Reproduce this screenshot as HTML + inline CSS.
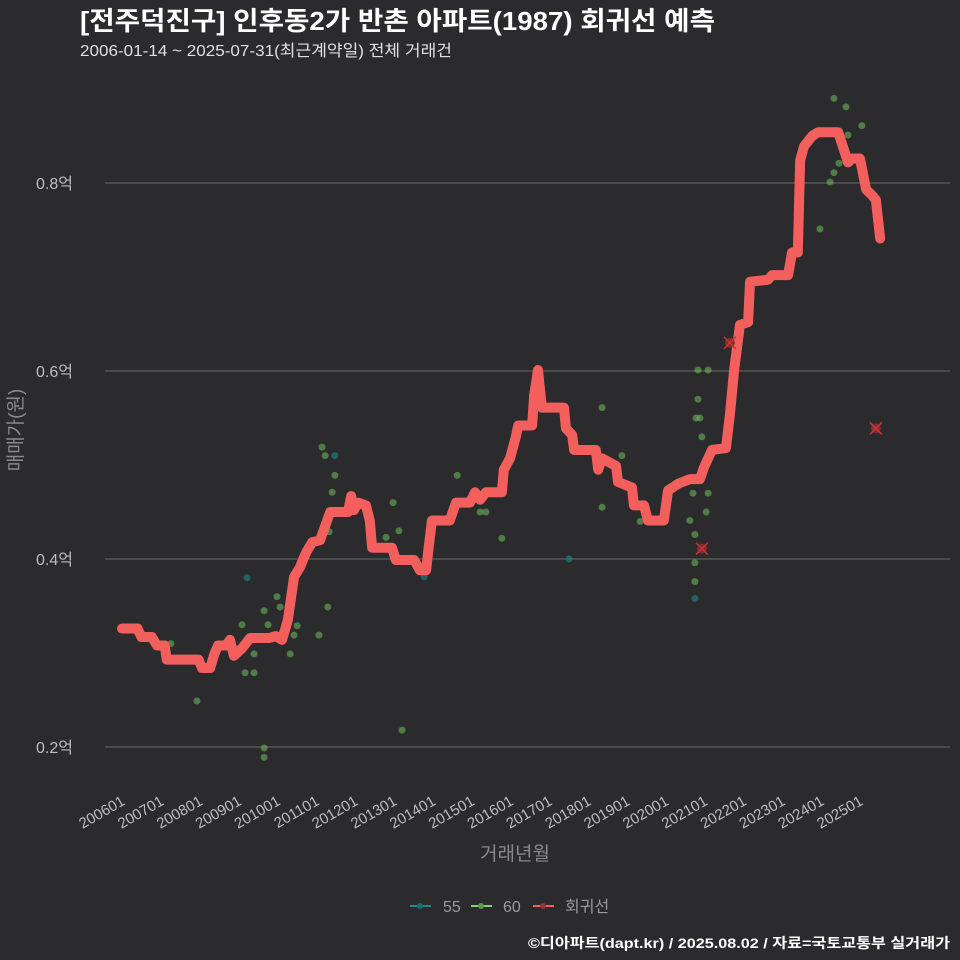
<!DOCTYPE html>
<html><head><meta charset="utf-8"><style>
html,body{margin:0;padding:0;overflow:hidden;background:#2b2a2c;}
svg{display:block;}
svg text{font-family:"Liberation Sans","Noto Sans CJK KR",sans-serif;}
</style></head><body>
<svg id="chart" width="960" height="960" xmlns="http://www.w3.org/2000/svg">
<rect width="960" height="960" fill="#2b2a2c"/>
<text x="80" y="30" fill="#ffffff" font-size="26" font-weight="bold" textLength="635" lengthAdjust="spacingAndGlyphs">[전주덕진구] 인후동2가 반촌 아파트(1987) 회귀선 예측</text>
<text x="80" y="56" fill="#e0e0e0" font-size="16" textLength="372" lengthAdjust="spacingAndGlyphs">2006-01-14 ~ 2025-07-31(최근계약일) 전체 거래건</text>
<g id="grid"></g><g id="pts"></g><g id="line"></g><g id="xticks"></g>
<text x="515" y="860" fill="#8a8a8a" font-size="19" text-anchor="middle">거래년월</text>
<text transform="translate(22,430) rotate(-90)" fill="#8a8a8a" font-size="19" text-anchor="middle">매매가(원)</text>
<g>
<g><line x1="410" y1="906" x2="431" y2="906" stroke="#1f8a8a" stroke-width="2"/><circle cx="420" cy="906" r="3" fill="#1f6a6a"/><text x="443" y="912" fill="#9a9a9a" font-size="16">55</text></g>
<g><line x1="471" y1="906" x2="492" y2="906" stroke="#7fd66f" stroke-width="2"/><circle cx="481" cy="906" r="3" fill="#5a9a50"/><text x="503" y="912" fill="#9a9a9a" font-size="16">60</text></g>
<g><line x1="533" y1="906" x2="554" y2="906" stroke="#f25f5c" stroke-width="2"/><circle cx="543" cy="906" r="3" fill="#8a3a3a"/><text x="565" y="912" fill="#9a9a9a" font-size="16">회귀선</text></g>
</g>
<text x="950" y="948" fill="#ffffff" font-size="14" font-weight="bold" text-anchor="end" textLength="422" lengthAdjust="spacingAndGlyphs">©디아파트(dapt.kr) / 2025.08.02 / 자료=국토교통부 실거래가</text>
</svg>
<script>
const yTicks=[0.2,0.4,0.6,0.8];
const yTickLabels=["0.2억","0.4억","0.6억","0.8억"];
const xTickYears=[2006,2007,2008,2009,2010,2011,2012,2013,2014,2015,2016,2017,2018,2019,2020,2021,2022,2023,2024,2025];
const xTickLabels=["200601","200701","200801","200901","201001","201101","201201","201301","201401","201501","201601","201701","201801","201901","202001","202101","202201","202301","202401","202501"];
const lineX=[2006.0,2006.4,2006.5,2006.77,2006.9,2007.1,2007.15,2007.97,2008.06,2008.27,2008.37,2008.47,2008.68,2008.78,2008.88,2009.09,2009.3,2009.8,2009.96,2010.12,2010.27,2010.43,2010.58,2010.74,2010.9,2011.1,2011.36,2011.82,2011.9,2011.97,2012.08,2012.28,2012.38,2012.44,2012.95,2013.05,2013.52,2013.67,2013.83,2013.88,2013.98,2014.44,2014.6,2014.96,2015.09,2015.22,2015.37,2015.78,2015.83,2015.99,2016.14,2016.2,2016.56,2016.61,2016.71,2016.81,2017.38,2017.43,2017.59,2017.64,2018.2,2018.26,2018.36,2018.72,2018.77,2019.13,2019.18,2019.44,2019.54,2019.95,2020.06,2020.32,2020.62,2020.88,2020.98,2021.19,2021.55,2021.65,2021.76,2021.91,2022.12,2022.17,2022.63,2022.74,2023.15,2023.25,2023.4,2023.46,2023.56,2023.77,2023.92,2024.44,2024.59,2024.69,2024.8,2025.0,2025.16,2025.31,2025.41,2025.52];
const lineY=[0.326,0.326,0.317,0.317,0.308,0.308,0.293,0.293,0.284,0.284,0.298,0.308,0.308,0.314,0.297,0.305,0.316,0.316,0.318,0.314,0.335,0.381,0.391,0.407,0.418,0.420,0.45,0.45,0.467,0.452,0.46,0.457,0.441,0.412,0.412,0.399,0.399,0.388,0.388,0.407,0.441,0.441,0.46,0.46,0.471,0.463,0.471,0.471,0.495,0.507,0.53,0.542,0.542,0.574,0.601,0.561,0.561,0.539,0.532,0.516,0.516,0.495,0.507,0.499,0.482,0.476,0.457,0.457,0.441,0.441,0.473,0.48,0.485,0.485,0.497,0.516,0.518,0.553,0.601,0.649,0.652,0.695,0.697,0.702,0.702,0.726,0.726,0.824,0.839,0.85,0.854,0.854,0.835,0.822,0.826,0.826,0.793,0.787,0.782,0.741];
const s55X=[2009.22,2013.78,2011.48,2017.51,2020.75];
const s55Y=[0.380,0.381,0.510,0.400,0.358];
const s60X=[2007.26,2007.93,2009.09,2009.66,2009.99,2010.07,2009.76,2009.4,2009.17,2009.4,2009.66,2009.66,2010.33,2010.51,2010.43,2011.07,2011.3,2011.15,2011.23,2011.41,2011.33,2011.48,2013.21,2012.8,2013.13,2012.98,2014.63,2015.22,2015.37,2015.78,2018.36,2018.36,2018.87,2019.34,2020.62,2020.78,2020.83,2020.83,2020.88,2020.93,2021.09,2021.04,2021.09,2020.7,2020.75,2020.75,2020.75,2023.97,2024.23,2024.33,2024.46,2024.33,2024.64,2024.69,2025.05];
const s60Y=[0.310,0.249,0.330,0.345,0.360,0.349,0.330,0.299,0.279,0.279,0.199,0.189,0.299,0.329,0.319,0.319,0.349,0.519,0.510,0.471,0.429,0.489,0.218,0.423,0.430,0.460,0.489,0.450,0.450,0.422,0.561,0.455,0.510,0.440,0.441,0.550,0.601,0.570,0.550,0.530,0.601,0.450,0.470,0.470,0.426,0.396,0.376,0.751,0.801,0.811,0.821,0.890,0.881,0.851,0.861];
const outX=[2021.65,2020.93,2025.41];
const outY=[0.630,0.411,0.539];

const NS="http://www.w3.org/2000/svg";
function sx(t){return 122+(t-2006)*38.84;}
function sy(v){return 747-(v-0.2)*940;}
function mk(tag,attrs,parent){const e=document.createElementNS(NS,tag);for(const k in attrs)e.setAttribute(k,attrs[k]);document.getElementById(parent).appendChild(e);return e;}

yTicks.forEach((v,i)=>{
  const l=mk('line',{x1:105,x2:950,y1:sy(v),y2:sy(v),stroke:'#6a6a6a','stroke-width':1},'grid');
  
  
  const t=mk('text',{x:73,y:sy(v)+6,fill:'#bdbdbd','font-size':16,'text-anchor':'end'},'grid');
  t.textContent=yTickLabels[i];
  
  
});
xTickYears.forEach((yr,i)=>{
  const x=sx(yr);
  const t=mk('text',{transform:`translate(${x+4},${804}) rotate(-30)`,fill:'#bdbdbd','font-size':15,'text-anchor':'end'},'xticks');
  t.textContent=xTickLabels[i];
  
  
});
s60X.forEach((x,i)=>{
  const c=mk('circle',{cx:sx(x),cy:sy(s60Y[i]),r:3.5,fill:'#6fbf5f','fill-opacity':0.55},'pts');
  
  
});
s55X.forEach((x,i)=>{
  const c=mk('circle',{cx:sx(x),cy:sy(s55Y[i]),r:3.5,fill:'#1f7a7a','fill-opacity':0.7},'pts');
  
  
});
const pl=mk('polyline',{points:lineX.map((x,i)=>sx(x)+','+sy(lineY[i])).join(' '),fill:'none',stroke:'#f25f5c','stroke-width':10,'stroke-linejoin':'round','stroke-linecap':'round'},'line');


outX.forEach((x,i)=>{
  const cx=sx(x),cy=sy(outY[i]);
  const g=mk('g',{},'line');
  
  
  const c=document.createElementNS(NS,'circle');c.setAttribute('cx',cx);c.setAttribute('cy',cy);c.setAttribute('r',5);c.setAttribute('fill','#7a3030');g.appendChild(c);
  const p=document.createElementNS(NS,'path');p.setAttribute('d',`M${cx-6},${cy-6}L${cx+6},${cy+6}M${cx-6},${cy+6}L${cx+6},${cy-6}`);p.setAttribute('stroke','#d03030');p.setAttribute('stroke-width',1.5);g.appendChild(p);
});
</script>
</body></html>
